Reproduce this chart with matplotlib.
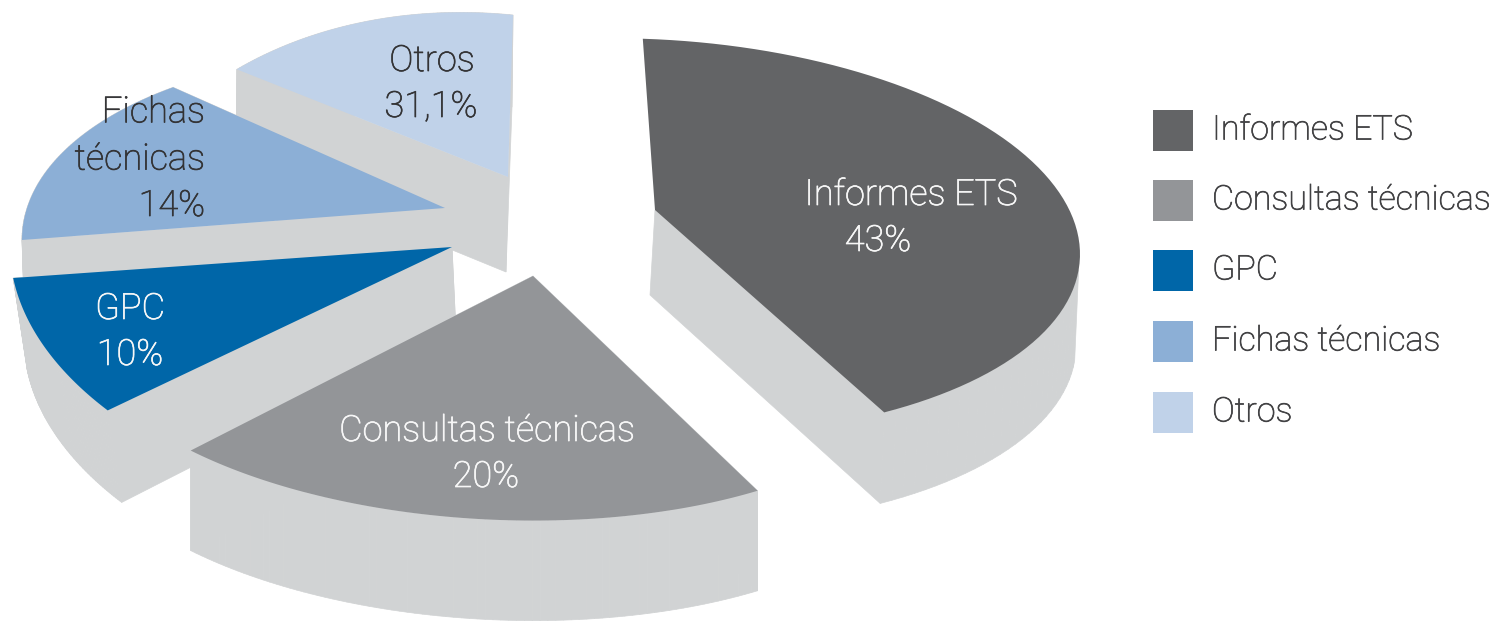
import numpy as np
import matplotlib
matplotlib.use('Agg')
import matplotlib.pyplot as plt
import matplotlib.patheffects as pe
from matplotlib.patches import Polygon, Rectangle

# slice data (printed label of Otros differs from its drawn share)
categories = ['Informes ETS', 'Consultas técnicas', 'GPC', 'Fichas técnicas', 'Otros']
printed_pct = ['43%', '20%', '10%', '14%', '31,1%']
drawn_share = [41.1, 23.0, 9.0, 13.9, 11.1]

colors = ['#636466', '#939598', '#0066a8', '#8cafd6', '#c0d2e9']
wall_color = '#d1d3d4'

# layout per slice, in pixels: apex, ellipse centre, radii, shear, start angle, wall offsets
apex = [(655, 210), (533, 276), (452, 247), (445, 208), (508, 177)]
centre = [(650, 237), (500, 328), (440, 269), (445, 261), (513, 366)]
radii = [(430, 198), (430, 192), (430, 249), (423, 209), (430, 351)]
shear = [0.04, 0.035, 0.05, 0.05, 0.1]
start = [-57, -136, 187, 130, 90]
wall = [(-4, 91), (0, 100), (14, 92), (3, 90), (-1, 92)]
apex_wall = [(-5, 85), (0, 100), (4, 85), (2, 85), (-2, 95)]
skip_back_edge = [True, False, False, False, False]
draw_order = [4, 3, 2, 0, 1]

name_pos = [(911, 195), (487, 431), (130, 309), (205, 136), (432, 61)]
name_text = ['Informes ETS', 'Consultas técnicas', 'GPC', 'Fichas\ntécnicas', 'Otros']
name_ha = ['center', 'center', 'center', 'right', 'center']
pct_pos = [(878, 241), (486, 477), (130, 355), (205, 206), (431, 107)]
label_color = ['#f8f8f8', '#f8f8f8', '#f8f8f8', '#333335', '#333335']

plt.rcParams['font.family'] = ['Roboto', 'Liberation Sans', 'DejaVu Sans']
font_w = 'light'

fig = plt.figure(figsize=(14.99, 6.23), dpi=100)
ax = fig.add_axes([0, 0, 1, 1])
ax.set_xlim(0, 1499)
ax.set_ylim(623, 0)
ax.axis('off')


def slice_outline(i):
    t = np.radians(np.linspace(start[i], start[i] + 3.6 * drawn_share[i], 80))
    x = centre[i][0] + radii[i][0] * np.cos(t)
    y = centre[i][1] - radii[i][1] * np.sin(t) + shear[i] * (x - centre[i][0])
    x = np.r_[apex[i][0], x]
    y = np.r_[apex[i][1], y]
    return np.column_stack([x, y])


for i in draw_order:
    pts = slice_outline(i)
    low = pts + np.array(wall[i])
    low[0] = pts[0] + np.array(apex_wall[i])
    for a in range(len(pts)):
        b = (a + 1) % len(pts)
        if skip_back_edge[i]:
            # only walls that look down are seen on this slice
            ex, ey = pts[b] - pts[a]
            if ex / np.hypot(ex, ey) < 0.2 and b != 1:
                continue
        ax.add_patch(Polygon([pts[a], pts[b], low[b], low[a]], closed=True,
                             fc=wall_color, ec=wall_color, lw=0.5))
    ax.add_patch(Polygon(pts, closed=True, fc=colors[i], ec='none'))

for i in range(5):
    stroke = [pe.withStroke(linewidth=0.5, foreground=label_color[i])]
    ax.text(name_pos[i][0], name_pos[i][1], name_text[i], ha=name_ha[i], va='center',
            color=label_color[i], fontsize=26, fontweight=font_w, linespacing=1.4,
            multialignment=name_ha[i], path_effects=stroke)
    ax.text(pct_pos[i][0], pct_pos[i][1], printed_pct[i], ha=name_ha[i], va='center',
            color=label_color[i], fontsize=26, fontweight=font_w, path_effects=stroke)

legend_y = [130.5, 200.5, 270.5, 341.5, 412.5]
for i in range(5):
    ax.add_patch(Rectangle((1153, legend_y[i] - 20.5), 40, 41, fc=colors[i], ec='none'))
    ax.text(1212, legend_y[i], categories[i], ha='left', va='center',
            color='#414143', fontsize=24.5, fontweight=font_w,
            path_effects=[pe.withStroke(linewidth=0.5, foreground='#414143')])

fig.savefig('out.png', dpi=100)
